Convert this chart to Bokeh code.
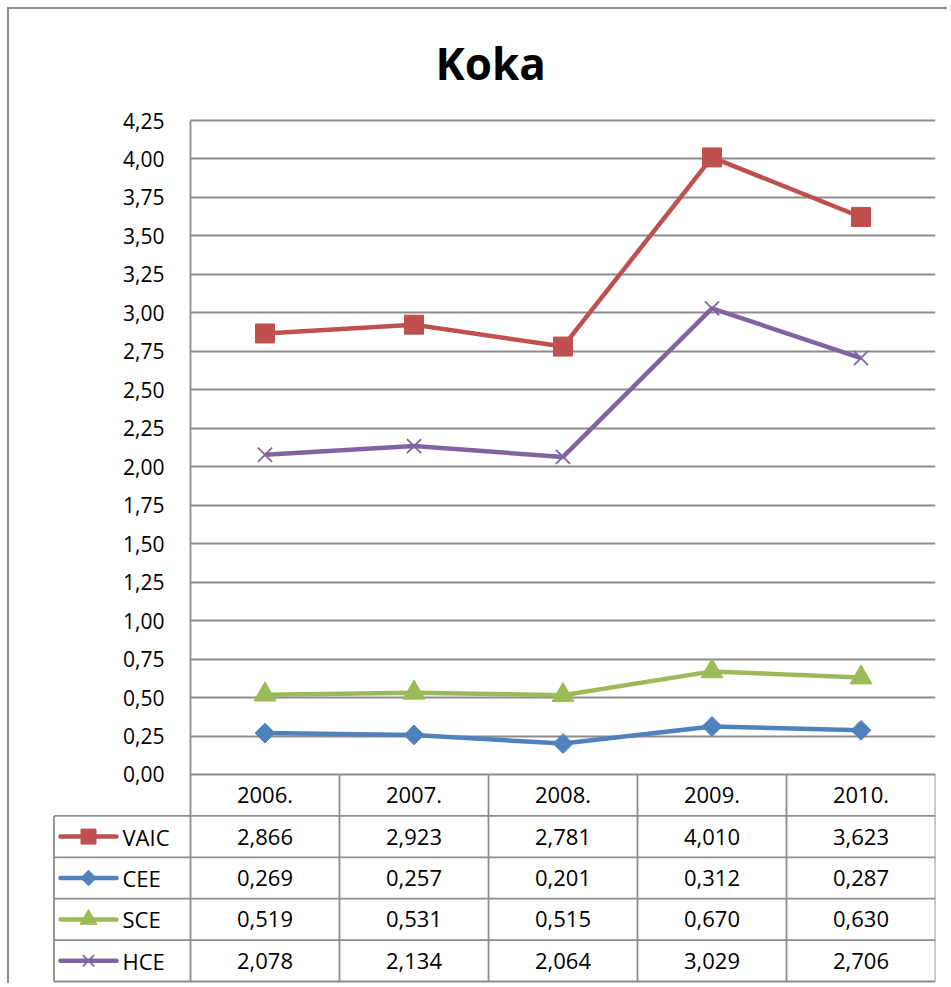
import numpy as np
from bokeh.plotting import figure
from bokeh.models import Range1d, FixedTicker, CustomJSTickFormatter
from bokeh.core.properties import value
from bokeh.embed import file_html
from bokeh.resources import INLINE

# ---------------- data ----------------
years = ["2006.", "2007.", "2008.", "2009.", "2010."]
series_names = ["VAIC", "CEE", "SCE", "HCE"]
vaic = [2.866, 2.923, 2.781, 4.010, 3.623]
cee = [0.269, 0.257, 0.201, 0.312, 0.287]
sce = [0.519, 0.531, 0.515, 0.670, 0.630]
hce = [2.078, 2.134, 2.064, 3.029, 2.706]
y_ticks = [0.0, 0.25, 0.5, 0.75, 1.0, 1.25, 1.5, 1.75, 2.0,
           2.25, 2.5, 2.75, 3.0, 3.25, 3.5, 3.75, 4.0, 4.25]
title_text = "Koka"

# ---------------- style ----------------
FONT = "Open Sans"
GRID = "#8c8c8c"
colors = {"VAIC": "#C0504D", "CEE": "#4F81BD", "SCE": "#9BBB59", "HCE": "#8064A2"}
markers = {"VAIC": "square", "CEE": "square", "SCE": "triangle", "HCE": "x"}
angles = {"VAIC": 0.0, "CEE": np.pi / 4, "SCE": 0.0, "HCE": 0.0}
msize = {"VAIC": 19, "CEE": 14, "SCE": 22, "HCE": 20}
lsize = {"VAIC": 15, "CEE": 11, "SCE": 17, "HCE": 16}
mline = {"VAIC": 1, "CEE": 1, "SCE": 1, "HCE": 1.8}

W, H = 940, 976
PX_X = 149.0      # px per category band
PX_Y = 153.88     # px per y unit
ROW_PX = 41.4     # table row height in px

def xd(px_from_axis):
    return px_from_axis / PX_X

def yd(px_below_zero):
    return -px_below_zero / PX_Y

X_MIN = xd(-139)
Y_MIN = yd(210)
Y_MAX = y_ticks[-1] + 15 / PX_Y
ROW_H = ROW_PX / PX_Y
TABLE_LEFT = xd(-136.5)
TABLE_BOTTOM = -5 * ROW_H
LEG_X0, LEG_X1, LEG_MX, LEG_TX = xd(-130), xd(-74), xd(-102), xd(-68)

series_vals = [vaic, cee, sce, hce]
n = len(years)
xs = [i + 0.5 for i in range(n)]

p = figure(width=W, height=H, output_backend="svg", toolbar_location=None, tools="",
           x_range=Range1d(X_MIN, n), y_range=Range1d(Y_MIN, Y_MAX),
           x_axis_location=None, title=title_text,
           min_border_left=42, min_border_right=14, min_border_top=96, min_border_bottom=1,
           styles={"margin-left": "7px", "margin-top": "7px",
                   "border-left": "2px solid #8c8c8c", "border-top": "2px solid #8c8c8c"})
p.outline_line_color = None
p.background_fill_color = "white"
p.border_fill_color = "white"

p.title.align = "left"
p.title.offset = 384
p.title.standoff = 26
p.title.text_font = FONT
p.title.text_font_size = "44px"
p.title.text_font_style = "bold"
p.title.text_color = "black"

yax = p.yaxis[0]
yax.fixed_location = 0
yax.ticker = FixedTicker(ticks=y_ticks)
yax.formatter = CustomJSTickFormatter(code="return tick.toFixed(2).replace('.', ',');")
yax.bounds = (TABLE_BOTTOM, y_ticks[-1])
yax.major_tick_out = 0
yax.major_tick_in = 0
yax.minor_tick_out = 0
yax.minor_tick_in = 0
yax.axis_line_color = GRID
yax.axis_line_width = 1.8
yax.major_label_standoff = 26
yax.major_label_text_font = FONT
yax.major_label_text_font_size = "21px"
yax.major_label_text_color = "black"

p.xgrid.visible = False
p.ygrid.ticker = FixedTicker(ticks=y_ticks)
p.ygrid.cross_bounds = (0, n)
p.ygrid.grid_line_color = GRID
p.ygrid.grid_line_width = 1.8

# ---------------- table grid ----------------
hx0 = [TABLE_LEFT] * 5
hx1 = [n] * 5
hy = [-(k + 1) * ROW_H for k in range(5)]
p.segment(x0=hx0, y0=hy, x1=hx1, y1=hy, line_color=GRID, line_width=1.8)
vx = [i + 1 for i in range(n)] + [TABLE_LEFT]
vy0 = [0.0] * n + [-ROW_H]
vy1 = [TABLE_BOTTOM] * (n + 1)
p.segment(x0=vx, y0=vy0, x1=vx, y1=vy1, line_color=GRID, line_width=1.8)

# header labels
p.text(x=xs, y=[-0.5 * ROW_H] * n, text=years, text_font=value(FONT),
       text_font_size="22px", text_align="center", text_baseline="middle", text_color="black")

# cell values
cx, cy, ct = [], [], []
for r, vals in enumerate(series_vals):
    for i, v in enumerate(vals):
        cx.append(xs[i])
        cy.append(-(r + 1.5) * ROW_H)
        ct.append(f"{v:.3f}".replace(".", ","))
p.text(x=cx, y=cy, text=ct, text_font=value(FONT), text_font_size="22px",
       text_align="center", text_baseline="middle", text_color="black")

# ---------------- series + table legend keys ----------------
for r, (name, vals) in enumerate(zip(series_names, series_vals)):
    c = colors[name]
    p.line(xs, vals, line_color=c, line_width=4.5)
    p.scatter(xs, vals, marker=markers[name], size=msize[name], angle=angles[name],
              fill_color=c, line_color=c, line_width=mline[name])
    ry = -(r + 1.5) * ROW_H
    p.segment(x0=[LEG_X0], y0=[ry], x1=[LEG_X1], y1=[ry], line_color=c, line_width=4.5,
              line_cap="round")
    p.scatter([LEG_MX], [ry], marker=markers[name], size=lsize[name], angle=angles[name],
              fill_color=c, line_color=c, line_width=mline[name])
    p.text(x=[LEG_TX], y=[ry], text=[name], text_font=value(FONT), text_font_size="22px",
           text_align="left", text_baseline="middle", text_color="black")

open("out.html", "w").write(file_html(p, INLINE))
